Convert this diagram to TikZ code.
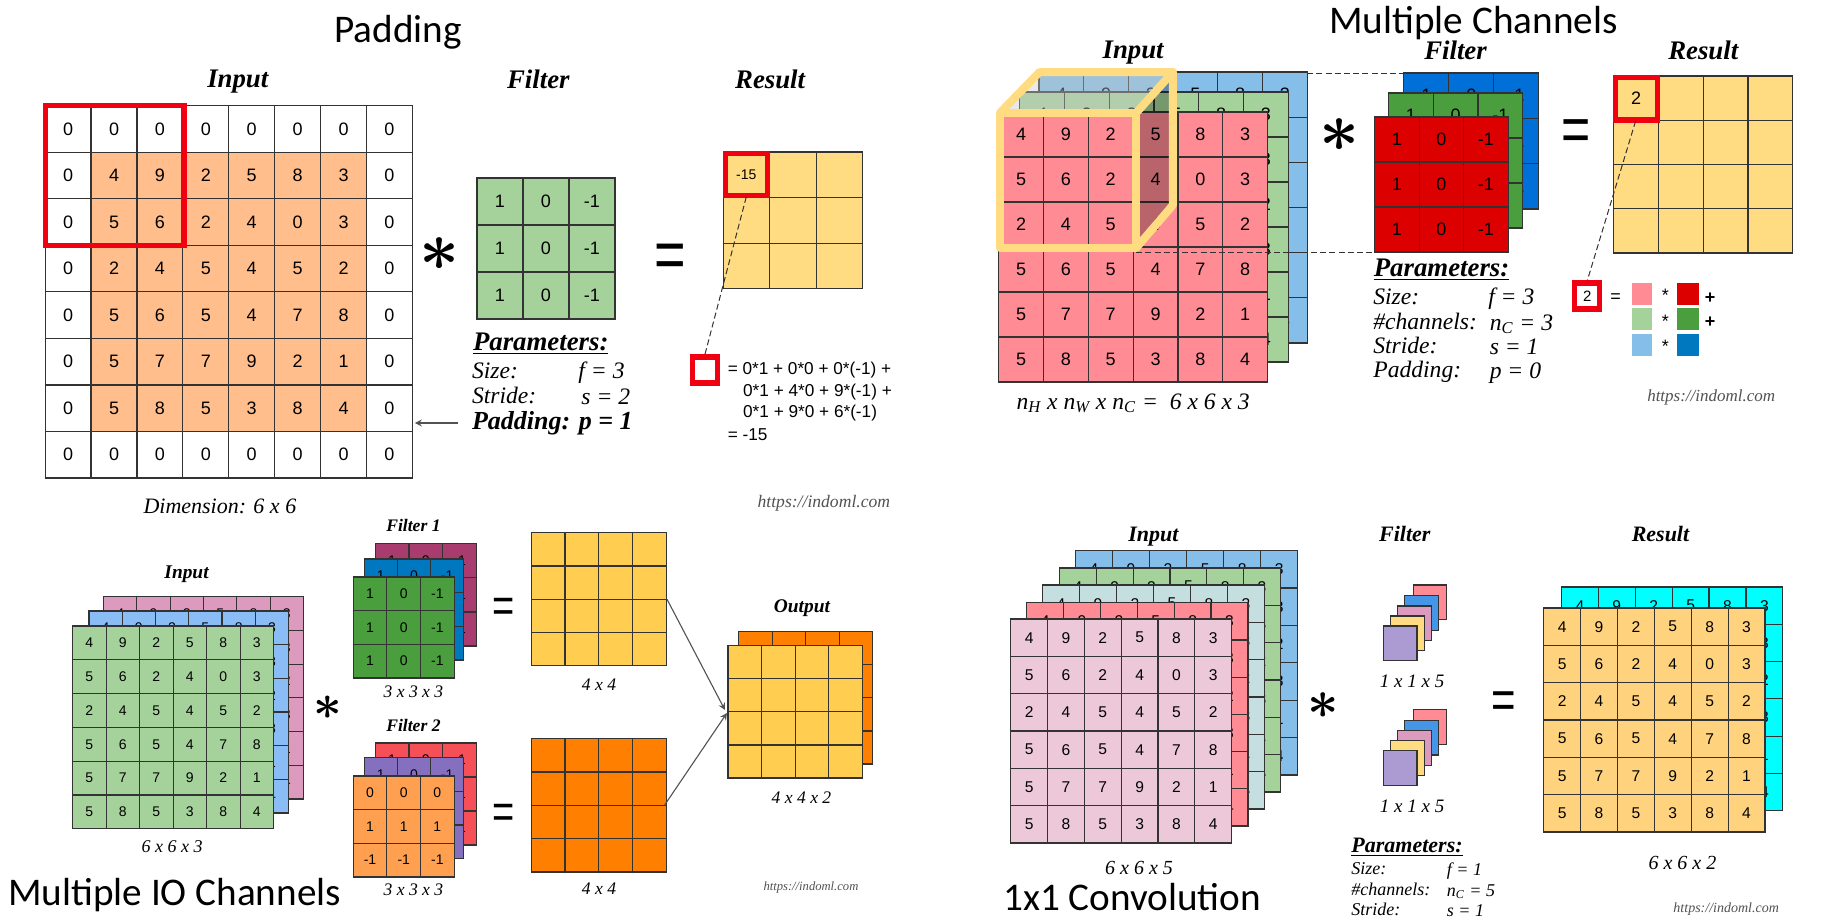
\documentclass[tikz,border=0pt]{standalone}
\usepackage{fontspec}
\setmainfont{Liberation Serif}
\setsansfont{Liberation Sans}
\newfontfamily\titlefont{Carlito}
\usetikzlibrary{arrows}
\definecolor{cellorange}{HTML}{FFBE8C}
\definecolor{softgreen}{HTML}{A5D29B}
\definecolor{softyellow}{HTML}{FFDC82}
\definecolor{softred}{HTML}{FF8B94}
\definecolor{softblue}{HTML}{85BEE8}
\definecolor{skyblue}{HTML}{8ABDF5}
\definecolor{softpink}{HTML}{DC9BBE}
\definecolor{palepink}{HTML}{ECC8D8}
\definecolor{paleteal}{HTML}{C5DEDF}
\definecolor{softpurple}{HTML}{AB9BD2}
\definecolor{midblue}{HTML}{4696E8}
\definecolor{deepred}{HTML}{DD0000}
\definecolor{deepgreen}{HTML}{4A9E3E}
\definecolor{deepblue}{HTML}{0070D8}
\definecolor{seablue}{HTML}{0078C0}
\definecolor{maroon}{HTML}{A83C6E}
\definecolor{peach}{HTML}{FFA050}
\definecolor{violet}{HTML}{8470BE}
\definecolor{coral}{HTML}{F55058}
\definecolor{amber}{HTML}{FFCD50}
\definecolor{strongorange}{HTML}{FF8000}
\definecolor{sandyellow}{HTML}{FFD27D}
\definecolor{brightcyan}{HTML}{00FFFF}
\definecolor{boxred}{HTML}{F00010}
\definecolor{gridgray}{HTML}{333333}
\definecolor{cubegray}{HTML}{C8C8C8}
\tikzset{
    every node/.style={inner sep=0pt},
    gridline/.style={draw=gridgray,line width=0.6pt},
    linkline/.style={->,draw=gridgray!85,line width=0.55pt},
    redframe/.style={draw=boxred,line width=2.6pt},
    dashlink/.style={draw=gridgray,line width=0.5pt,dash pattern=on 3pt off 1.6pt},
    cubeline/.style={draw=softyellow,line width=4pt,line join=round},
    evenbox/.style={execute at begin node={\rule[-.2em]{0pt}{1em}}},
    cellnum/.style={font=\sffamily\fontsize{#1}{#1}\selectfont},
    heading/.style={font=\bfseries\itshape\fontsize{#1}{#1}\selectfont,evenbox},
    ital/.style={font=\itshape\fontsize{#1}{#1}\selectfont,evenbox},
    weblbl/.style={font=\itshape\fontsize{#1}{#1}\selectfont,text=gridgray!85,evenbox},
    bigtitle/.style={font=\titlefont\fontsize{#1}{#1}\selectfont},
    starsign/.style={font=\Huge\boldmath,scale=#1},
    eqsign/.style={font=\sffamily\fontsize{#1}{#1}\selectfont,yscale=1.3,execute at begin node={\rule{0pt}{.72em}}},
}
% x0 y0 x1 y1 cols rows fill
\newcommand{\gridlayer}[7]{%
    \draw[gridline,fill=#7] (#1,#2) rectangle (#3,#4);
    \pgfmathtruncatemacro\lastcol{#5-1}
    \pgfmathtruncatemacro\lastrow{#6-1}
    \foreach \k in {1,...,\lastcol}
        \draw[gridline] ({#1+\k*(#3-#1)/#5},#2) -- ({#1+\k*(#3-#1)/#5},#4);
    \foreach \k in {1,...,\lastrow}
        \draw[gridline] (#1,{#2+\k*(#4-#2)/#6}) -- (#3,{#2+\k*(#4-#2)/#6});
}
% name x0 y0 x1 y1 cols rows size list
\newcommand{\griddigits}[9]{%
    \foreach \digitrow [count=\ri] in #9
        \foreach \val [count=\ci] in \digitrow
            \node[cellnum=#8] (#1-\ri-\ci)
                at ({#2+(\ci-.5)*(#4-#2)/#6},{#3+(\ri-.5)*(#5-#3)/#7}) {\val};
}
\def\sixdigits{{4,9,2,5,8,3},{5,6,2,4,0,3},{2,4,5,4,5,2},{5,6,5,4,7,8},{5,7,7,9,2,1},{5,8,5,3,8,4}}
\def\paddeddigits{{0,0,0,0,0,0,0,0},{0,4,9,2,5,8,3,0},{0,5,6,2,4,0,3,0},{0,2,4,5,4,5,2,0},{0,5,6,5,4,7,8,0},{0,5,7,7,9,2,1,0},{0,5,8,5,3,8,4,0},{0,0,0,0,0,0,0,0}}
\def\edgedigits{{1,0,-1},{1,0,-1},{1,0,-1}}
\def\flatdigits{{0,0,0},{1,1,1},{-1,-1,-1}}

\begin{document}
\begin{tikzpicture}[x=0.5pt,y=-0.5pt,>=stealth]
    \fill[white] (0,0) rectangle (1826,922);
    \useasboundingbox (0,0) rectangle (1826,922);

    \begin{scope}[x=0.4975pt]
    % Padding
    \node[bigtitle=19.6] (padtitle) at (400,32) {Padding};
    \node[heading=13.4] (padinput) at (239,80) {Input};
    \node[heading=13.4] (padfilter) at (541,80) {Filter};
    \node[heading=13.4] (padresult) at (774,80) {Result};

    \fill[cellorange] (91.4,152) rectangle (368.5,432);
    \gridlayer{45.4}{105.7}{414.5}{478}{8}{8}{none}
    \griddigits{pad}{45.4}{105.7}{414.5}{478}{8}{8}{9}{\paddeddigits}
    \draw[redframe] (46,105.5) rectangle (185,245.5);

    \gridlayer{479.4}{178}{618}{319}{3}{3}{softgreen}
    \griddigits{padf}{479.4}{178}{618}{319}{3}{3}{9}{\edgedigits}
    \gridlayer{727}{152}{866.8}{288.7}{3}{3}{softyellow}
    \node[cellnum=7] (padcell) at (750,175) {-15};
    \draw[redframe] (729,153.5) rectangle (771,195.5);

    \node[starsign=1.4] (padstar) at (442,254) {$\ast$};
    \node[eqsign=27] (padeq) at (673.5,253) {=};

    \coordinate (padfrom) at (750,197);
    \node[redframe,draw,minimum width=12.5pt,minimum height=13pt] (padprobe) at (708.5,370) {};
    \draw[dashlink] (padfrom) -- (padprobe.north);
    \node[cellnum=8.6,anchor=west] (padsum1) at (731,370) {= 0*1 + 0*0 + 0*(-1) +};
    \node[cellnum=8.6,anchor=west] (padsum2) at (746.5,392) {0*1 + 4*0 + 9*(-1) +};
    \node[cellnum=8.6,anchor=west] (padsum3) at (746.5,413) {0*1 + 9*0 + 6*(-1)};
    \node[cellnum=8.6,anchor=west] (padsum4) at (731,435) {= -15};

    \node[heading=13.4,anchor=west] (padparam) at (475,342) {\underline{Parameters:}};
    \node[ital=11.8,anchor=west] (padsize) at (474,371) {Size:};
    \node[ital=11.8,anchor=west] (padsizev) at (581,372) {f = 3};
    \node[ital=11.8,anchor=west] (padstride) at (474,396) {Stride:};
    \node[ital=11.8,anchor=west] (padstridev) at (584,397) {s = 2};
    \node[heading=13,anchor=west] (padpad) at (474,422) {Padding: p = 1};
    \coordinate (padarrowfrom) at (460,423);
    \coordinate (padarrowto) at (417,423);
    \draw[linkline] (padarrowfrom) -- (padarrowto);
    \node[ital=11] (paddim) at (221,507) {Dimension: 6 x 6};
    \node[weblbl=8.8] (padweb) at (828,502) {https://indoml.com};

    % Multiple IO Channels
    \node[bigtitle=19.6] (iotitle) at (175.5,895) {Multiple IO Channels};
    \node[heading=9.7] (ioinput) at (187.5,573) {Input};
    \foreach \xa/\ya/\xb/\yb/\colr/\nm in {104/596.7/305/799/softpink/ioa,89.4/611/290/813/skyblue/iob,73/626/275/828.7/softgreen/ioc}{
        \gridlayer{\xa}{\ya}{\xb}{\yb}{6}{6}{\colr}
        \griddigits{\nm}{\xa}{\ya}{\xb}{\yb}{6}{6}{7}{\sixdigits}
    }
    \node[ital=9] (iodim) at (173,846.7) {6 x 6 x 3};
    \node[starsign=1] (iostar) at (329,708) {$\ast$};

    \node[heading=8.8] (iofa) at (415.5,526.7) {Filter 1};
    \foreach \xa/\ya/\xb/\yb/\colr/\nm in {377/543.7/479/646/maroon/iofaa,366/559/466/660/seablue/iofab,355/577/456.5/678/deepgreen/iofac}{
        \gridlayer{\xa}{\ya}{\xb}{\yb}{3}{3}{\colr}
        \griddigits{\nm}{\xa}{\ya}{\xb}{\yb}{3}{3}{7}{\edgedigits}
    }
    \node[ital=8.8] (iofadim) at (415.5,692.7) {3 x 3 x 3};
    \node[heading=8.8] (iofb) at (415.5,726) {Filter 2};
    \gridlayer{377}{743}{479}{845}{3}{3}{coral}
    \griddigits{iofba}{377}{743}{479}{845}{3}{3}{7}{\edgedigits}
    \gridlayer{366}{757.7}{466}{858.7}{3}{3}{violet}
    \griddigits{iofbb}{366}{757.7}{466}{858.7}{3}{3}{7}{\edgedigits}
    \gridlayer{355}{776}{456.5}{877}{3}{3}{peach}
    \griddigits{iofbc}{355}{776}{456.5}{877}{3}{3}{7}{\flatdigits}
    \node[ital=8.8] (iofbdim) at (415.5,890.7) {3 x 3 x 3};

    \node[eqsign=19] (ioeqa) at (506.6,605) {=};
    \node[eqsign=19] (ioeqb) at (506.6,811) {=};
    \gridlayer{534}{532.7}{669.5}{665.7}{4}{4}{amber}
    \gridlayer{534}{738.7}{669.5}{872}{4}{4}{strongorange}
    \node[ital=8.8] (ioresa) at (602,685) {4 x 4};
    \node[ital=8.8] (ioresb) at (602,889) {4 x 4};

    \node[heading=9.7] (ioout) at (806,606.7) {Output};
    \gridlayer{742.6}{631.7}{877}{764}{4}{4}{strongorange}
    \gridlayer{731.6}{645.7}{866.7}{778}{4}{4}{amber}
    \node[ital=8.8] (iooutdim) at (805.5,798) {4 x 4 x 2};
    \coordinate (iolinka) at (670.4,599.3);
    \coordinate (iolinkb) at (668,805);
    \coordinate (iojoina) at (728.6,710);
    \coordinate (iojoinb) at (730.6,713);
    \draw[linkline] (iolinka) -- (iojoina);
    \draw[linkline] (iolinkb) -- (iojoinb);
    \node[weblbl=6.3] (ioweb) at (815,886.7) {https://indoml.com};
    \end{scope}

    \begin{scope}[x=0.4975pt,xshift=2.4pt]
    % Multiple Channels
    \node[bigtitle=19.6] (chantitle) at (1476,23) {Multiple Channels};
    \node[heading=13.4] (chaninput) at (1134,51) {Input};
    \node[heading=13.4] (chanfilter) at (1458,51) {Filter};
    \node[heading=13.4] (chanresult) at (1707,51) {Result};

    \foreach \xa/\ya/\xb/\yb/\colr/\nm in {1039.4/72/1309/343/softblue/chana,1020/92/1290/362/softgreen/chanb,999/112/1269/382/softred/chanc}{
        \gridlayer{\xa}{\ya}{\xb}{\yb}{6}{6}{\colr}
        \griddigits{\nm}{\xa}{\ya}{\xb}{\yb}{6}{6}{9}{\sixdigits}
    }
    \foreach \xa/\ya/\xb/\yb/\colr/\nm in {1406/73/1541.7/209/deepblue/chanfa,1390.5/93/1525.6/228/deepgreen/chanfb,1376.7/117/1511/252/deepred/chanfc}{
        \gridlayer{\xa}{\ya}{\xb}{\yb}{3}{3}{\colr}
        \griddigits{\nm}{\xa}{\ya}{\xb}{\yb}{3}{3}{9}{\edgedigits}
    }
    % the cube over the input
    \fill[black,opacity=.28] (1137,113) -- (1174,72) -- (1174,205) -- (1137,248) -- cycle;
    \fill[cubegray,opacity=.4] (1000,113) -- (1040,72) -- (1174,72) -- (1137,113) -- cycle;
    \coordinate (cubea) at (1137,252);
    \coordinate (cubeb) at (1376.7,252);
    \coordinate (cubec) at (1309,73);
    \coordinate (cubed) at (1406,73);
    \draw[dashlink] (cubea) -- (cubeb);
    \draw[dashlink] (cubec) -- (cubed);
    \draw[cubeline] (1000,113) rectangle (1137,248);
    \draw[cubeline] (1000,113) -- (1040,72) -- (1174,72) -- (1137,113);
    \draw[cubeline] (1174,72) -- (1174,205) -- (1137,248);

    \gridlayer{1617}{76}{1797}{253}{4}{4}{softyellow}
    \node[cellnum=9] (chancell) at (1639.5,98.5) {2};
    \draw[redframe] (1619,77.5) rectangle (1661,120);

    \node[starsign=1.4] (chanstar) at (1341,135) {$\ast$};
    \node[eqsign=25] (chaneq) at (1579.5,128) {=};

    \coordinate (chanfrom) at (1639,121);
    \node[redframe,draw,minimum width=12.5pt,minimum height=13pt,cellnum=7.5] (chanprobe) at (1590.5,296) {2};
    \draw[dashlink] (chanfrom) -- (chanprobe.north);
    \node[cellnum=9] (chanprobeq) at (1619,298) {=};
    \foreach \ya/\yb/\cola/\colb/\nm in {282.7/305/softred/deepred/a,308/330/softgreen/deepgreen/b,333.7/355.7/softblue/seablue/c}{
        \fill[\cola] (1635,\ya) rectangle (1655.5,\yb);
        \fill[\colb] (1681,\ya) rectangle (1703,\yb);
        \node[cellnum=9] (chanmul\nm) at (1669,{\ya+13}) {*};
    }
    \node[cellnum=9] (chanplusa) at (1714,298) {\textbf{+}};
    \node[cellnum=9] (chanplusb) at (1714,322) {\textbf{+}};

    \node[heading=13.4,anchor=west] (chanparam) at (1375.5,268) {\underline{Parameters:}};
    \node[ital=11.8,anchor=west] (chansize) at (1375,297) {Size:};
    \node[ital=11.8,anchor=west] (chansizev) at (1490.5,298) {f = 3};
    \node[ital=11.8,anchor=west] (chanchan) at (1375,322) {\#channels:};
    \node[ital=11.8,anchor=west] (chanchanv) at (1492,323) {n\textsubscript{C} = 3};
    \node[ital=11.8,anchor=west] (chanstride) at (1375,346) {Stride:};
    \node[ital=11.8,anchor=west] (chanstridev) at (1492,347) {s = 1};
    \node[ital=11.8,anchor=west] (chanpad) at (1375,371) {Padding:};
    \node[ital=11.8,anchor=west] (chanpadv) at (1492,372) {p = 0};
    \node[ital=11.8] (chandim) at (1134,402) {n\textsubscript{H} x n\textsubscript{W} x n\textsubscript{C} = \ 6 x 6 x 3};
    \node[weblbl=8.5] (chanweb) at (1715,397) {https://indoml.com};

    % 1x1 Convolution
    \node[bigtitle=19.6] (onetitle) at (1133,897) {1x1 Convolution};
    \node[heading=11] (oneinput) at (1154.4,535) {Input};
    \node[heading=11] (onefilter) at (1407,535) {Filter};
    \node[heading=11] (oneresult) at (1664,535) {Result};
    \foreach \xa/\ya/\xb/\yb/\colr/\nm in {1076/550.7/1299.4/775/softblue/onea,1060/568/1282/792/softgreen/oneb,1043/585/1266/809/paleteal/onec,1027/602.7/1249.4/826/softred/oned,1011/619/1233/843/palepink/onee}{
        \gridlayer{\xa}{\ya}{\xb}{\yb}{6}{6}{\colr}
        \griddigits{\nm}{\xa}{\ya}{\xb}{\yb}{6}{6}{7.8}{\sixdigits}
    }
    \node[ital=10] (onedim) at (1140,868) {6 x 6 x 5};
    \node[starsign=1.1] (onestar) at (1325.5,706) {$\ast$};
    \foreach \dy/\nm/\ylbl in {0/a/682,124.7/b/806.7}{
        \foreach \xa/\ya/\colr in {1415.6/585/softred,1407/595.7/midblue,1400/606/softpink,1392.8/616/softyellow,1385.5/626/softpurple}
            \draw[gridline,fill=\colr] (\xa,{\ya+\dy}) rectangle +(33.7,34.5);
        \node[ital=9.5] (onefdim\nm) at (1414.4,\ylbl) {1 x 1 x 5};
    }
    \node[eqsign=21] (oneeq) at (1506.7,699) {=};
    \gridlayer{1564.4}{587}{1787}{810.7}{6}{6}{brightcyan}
    \griddigits{oneres}{1564.4}{587}{1787}{810.7}{6}{6}{7.8}{\sixdigits}
    \gridlayer{1546.7}{608}{1769}{832}{6}{6}{sandyellow}
    \griddigits{onefront}{1546.7}{608}{1769}{832}{6}{6}{7.8}{\sixdigits}
    \node[ital=10] (oneresdim) at (1686,863) {6 x 6 x 2};

    \node[heading=11,anchor=west] (oneparam) at (1353,845.7) {\underline{Parameters:}};
    \node[ital=9,anchor=west] (onesize) at (1353,869) {Size:};
    \node[ital=9,anchor=west] (onesizev) at (1449,870) {f = 1};
    \node[ital=9,anchor=west] (onechan) at (1353,890) {\#channels:};
    \node[ital=9,anchor=west] (onechanv) at (1449,891) {n\textsubscript{C} = 5};
    \node[ital=9,anchor=west] (onestride) at (1353,910) {Stride:};
    \node[ital=9,anchor=west] (onestridev) at (1449,911) {s = 1};
    \node[weblbl=7] (oneweb) at (1730,908) {https://indoml.com};
    \end{scope}
\end{tikzpicture}
\end{document}
